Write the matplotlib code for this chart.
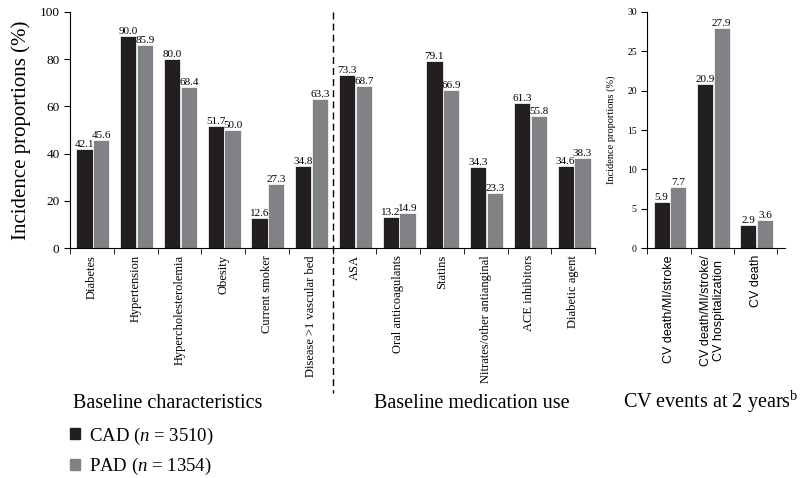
import matplotlib
matplotlib.use('Agg')
import matplotlib.pyplot as plt
import matplotlib.transforms as mtransforms
from matplotlib.patches import Patch
import numpy as np

plt.rcParams['font.family'] = ['Liberation Serif', 'DejaVu Serif']
plt.rcParams['mathtext.fontset'] = 'custom'
plt.rcParams['mathtext.rm'] = 'Liberation Serif'
plt.rcParams['mathtext.it'] = 'Liberation Serif:italic'

# left panel data
left_labels = ['Diabetes', 'Hypertension', 'Hypercholesterolemia', 'Obesity',
               'Current smoker', 'Disease >1 vascular bed', 'ASA', 'Oral anticoagulants',
               'Statins', 'Nitrates/other antianginal', 'ACE inhibitors', 'Diabetic agent']
cad_left = [42.1, 90.0, 80.0, 51.7, 12.6, 34.8, 73.3, 13.2, 79.1, 34.3, 61.3, 34.6]
pad_left = [45.6, 85.9, 68.4, 50.0, 27.3, 63.3, 68.7, 14.9, 66.9, 23.3, 55.8, 38.3]

# right panel data
right_labels = ['CV death/MI/stroke', 'CV death/MI/stroke/\nCV hospitalization', 'CV death']
cad_right = [5.9, 20.9, 2.9]
pad_right = [7.7, 27.9, 3.6]

cad_color = '#231f20'
pad_color = '#808285'

fig = plt.figure(figsize=(8.04, 4.78), dpi=100)
ax1 = fig.add_axes([0.0871, 0.481, 0.653, 0.494])
ax2 = fig.add_axes([0.805, 0.481, 0.171, 0.494])


def draw(ax, cad, pad, fs_val):
    x = np.arange(len(cad))
    w = 0.37
    ax.bar(x + 0.33, cad, w, color=cad_color, edgecolor='white', linewidth=0.5)
    ax.bar(x + 0.715, pad, w, color=pad_color, edgecolor='white', linewidth=0.5)
    for xi, c, p in zip(x, cad, pad):
        ax.text(xi + 0.33, c, f'{c:.1f}', ha='center', va='bottom', fontsize=fs_val)
        ax.text(xi + 0.715, p, f'{p:.1f}', ha='center', va='bottom', fontsize=fs_val)
    for s in ['top', 'right']:
        ax.spines[s].set_visible(False)
    ax.set_xticks(x + 0.5)
    ax.set_xticks(np.arange(len(cad) + 1), minor=True)
    ax.tick_params(axis='x', which='major', length=0, pad=5)
    ax.tick_params(axis='x', which='minor', length=4, direction='out')
    ax.tick_params(axis='y', length=4, direction='out')


draw(ax1, cad_left, pad_left, 8)
ax1.set_xlim(0, 12)
ax1.set_ylim(0, 100)
ax1.set_yticks([0, 20, 40, 60, 80, 100])
ax1.set_xticklabels(left_labels, rotation=90, fontsize=9, va='top')
ax1.tick_params(axis='y', labelsize=9.5)
ax1.set_ylabel('Incidence proportions (%)', fontsize=15, labelpad=6)

trans = mtransforms.blended_transform_factory(ax1.transData, ax1.transAxes)
ax1.plot([6, 6], [1.0, -0.615], transform=trans, clip_on=False,
         color='black', lw=1, ls=(0, (5, 3)))

draw(ax2, cad_right, pad_right, 8)
ax2.set_xlim(0, 3.17)
ax2.set_ylim(0, 30)
ax2.set_yticks([0, 5, 10, 15, 20, 25, 30])
ax2.set_xticklabels(right_labels, rotation=90, fontsize=9, va='top',
                    family=['Liberation Sans', 'DejaVu Sans'], linespacing=1.1)
ax2.tick_params(axis='y', labelsize=7)
ax2.set_ylabel('Incidence proportions (%)', fontsize=7.5, labelpad=8)

fig.text(0.209, 0.146, 'Baseline characteristics', ha='center', fontsize=14.5)
fig.text(0.587, 0.146, 'Baseline medication use', ha='center', fontsize=14.5)
fig.text(0.884, 0.146, 'CV events at 2 years$^{\\mathrm{b}}$', ha='center', fontsize=14.5)

handles = [Patch(color=cad_color), Patch(color=pad_color)]
fig.legend(handles, ['CAD ($n$ = 3510)', 'PAD ($n$ = 1354)'],
           loc='upper left', bbox_to_anchor=(0.087, 0.11), frameon=False,
           fontsize=13.5, handlelength=0.55, handleheight=0.55, handletextpad=0.45,
           labelspacing=0.5, borderaxespad=0, borderpad=0)

fig.savefig('out.png', dpi=100)
